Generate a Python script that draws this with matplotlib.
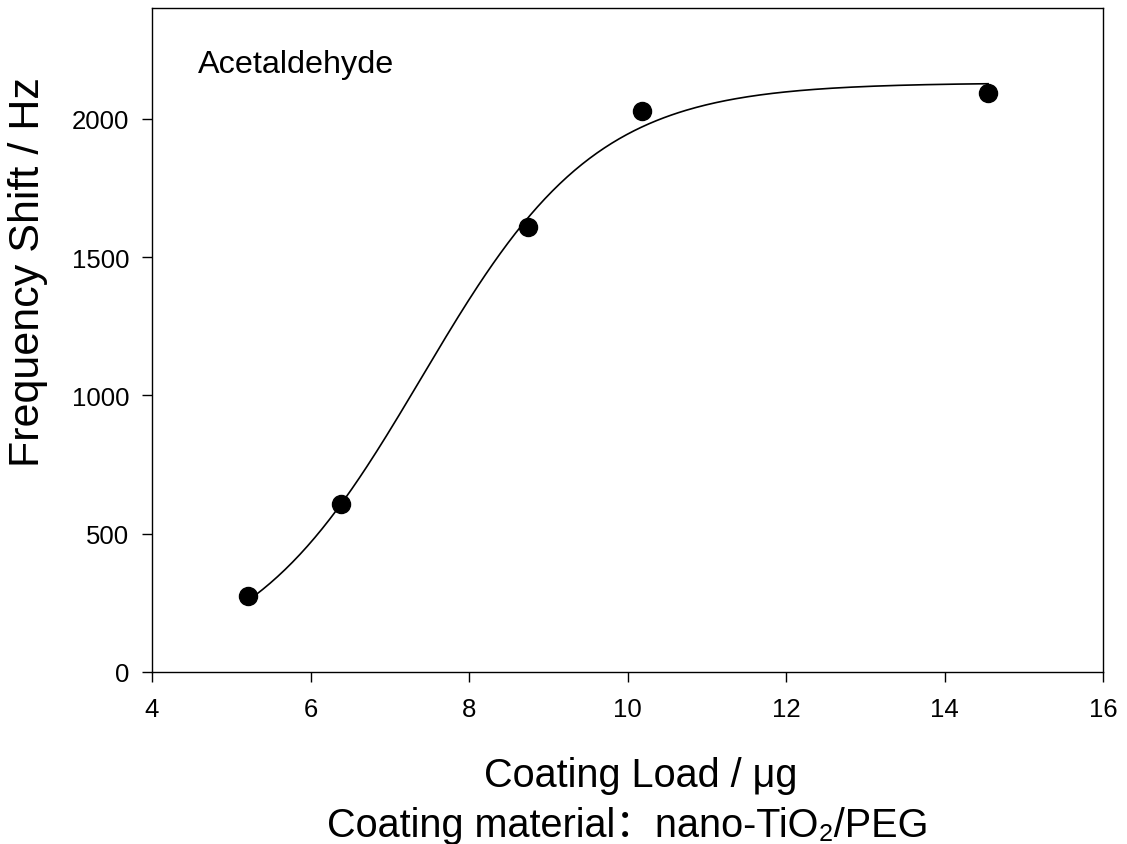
import numpy as np
import matplotlib
matplotlib.use("Agg")
import matplotlib.pyplot as plt

# Data
coating_load = np.array([5.21, 6.39, 8.74, 10.18, 14.55])
freq_shift = np.array([275, 607, 1609, 2029, 2094])

x_ticks = [4, 6, 8, 10, 12, 14, 16]
y_ticks = [0, 500, 1000, 1500, 2000]

plt.rcParams['font.family'] = ['Liberation Sans', 'Noto Sans CJK SC', 'DejaVu Sans']


def sigmoid(x, p):
    a, x0, b = p
    return a / (1.0 + np.exp(-(x - x0) / b))


# Fit 3-parameter sigmoid (Gauss-Newton) to the data
p = np.array([2125.0, 7.43, 1.155])
for _ in range(50):
    r = freq_shift - sigmoid(coating_load, p)
    J = np.zeros((len(coating_load), 3))
    for k in range(3):
        dp = np.zeros(3)
        dp[k] = 1e-6 * max(abs(p[k]), 1.0)
        J[:, k] = (sigmoid(coating_load, p + dp) - sigmoid(coating_load, p)) / dp[k]
    step, *_ = np.linalg.lstsq(J, r, rcond=None)
    p = p + step
    if np.max(np.abs(step)) < 1e-9:
        break

xs = np.linspace(coating_load.min(), coating_load.max(), 300)

W, H = 1127, 845
fig = plt.figure(figsize=(W / 100, H / 100), dpi=100)
L, R, T, B = 152, 1103, 9, 673
ax = fig.add_axes([L / W, 1 - B / H, (R - L) / W, (B - T) / H])

ax.plot(xs, sigmoid(xs, p), color='black', lw=1.2)
ax.plot(coating_load, freq_shift, 'o', color='black', markersize=13)

ax.set_xlim(4, 16)
ax.set_ylim(0, 2400)
ax.set_xticks(x_ticks)
ax.set_yticks(y_ticks)
ax.tick_params(direction='out', length=7, width=1, labelsize=18.5,
               top=False, right=False)
ax.tick_params(axis='x', pad=11)
ax.tick_params(axis='y', pad=9.5)
for s in ax.spines.values():
    s.set_linewidth(1)

fig.text(28 / W, 1 - 272 / H, 'Frequency Shift / Hz', fontsize=31,
         rotation=90, ha='center', va='center')
ax.text((198 - L) / (R - L), (B - 73) / (B - T), 'Acetaldehyde',
        transform=ax.transAxes, fontsize=23.3, va='baseline', ha='left')

fig.text(641 / W, 1 - 787 / H, 'Coating Load / \u03bcg', fontsize=28.5,
         ha='center', va='baseline')
fig.text(628 / W, 1 - 837 / H,
         'Coating material\uff1anano-TiO\u2082/PEG', fontsize=28.5,
         ha='center', va='baseline')

fig.savefig('out.png', dpi=100)
